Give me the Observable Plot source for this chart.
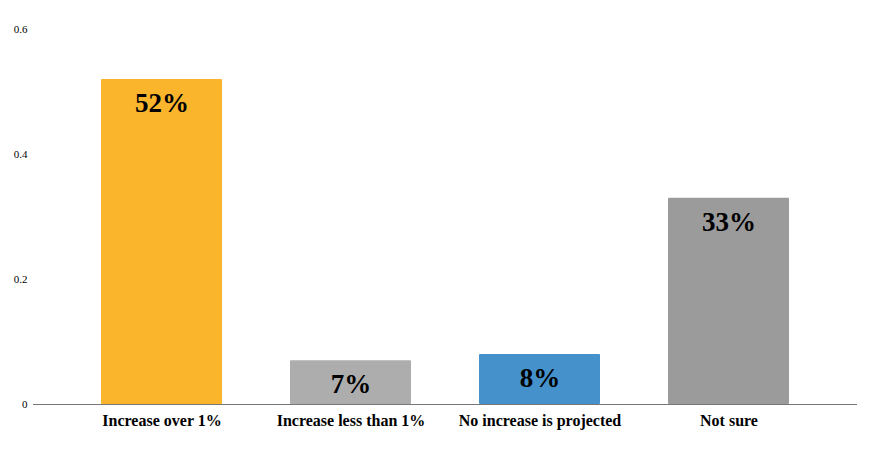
<!DOCTYPE html>
<html>
<head>
<meta charset="utf-8">
<script src="https://cdn.jsdelivr.net/npm/d3@7"></script>
<script src="https://cdn.jsdelivr.net/npm/@observablehq/plot@0.6"></script>
<style>
body { margin: 0; background: #fff; }
</style>
</head>
<body>
<div id="chart"></div>
<script>
const categories = ["Increase over 1%", "Increase less than 1%", "No increase is projected", "Not sure"];
const values = [0.52, 0.07, 0.08, 0.33];
const labels = ["52%", "7%", "8%", "33%"];
const colors = ["#FBB52D", "#ADADAD", "#4591CC", "#9B9B9B"];
const yTicks = [0, 0.2, 0.4, 0.6];

const data = categories.map((c, i) => ({category: c, value: values[i], label: labels[i]}));

const chart = Plot.plot({
  width: 882,
  height: 472,
  marginTop: 29,
  marginBottom: 68,
  marginLeft: 33,
  marginRight: 25,
  style: {fontFamily: "'Liberation Serif', serif", background: "#fff"},
  x: {domain: categories, padding: 0.36, paddingOuter: 0.35, label: null},
  y: {domain: [0, 0.6], ticks: yTicks, label: null},
  color: {domain: categories, range: colors},
  marks: [
    Plot.barY(data, {x: "category", y: "value", fill: "category", rx: 1}),
    Plot.ruleY([0], {stroke: "#777", strokeWidth: 1.2}),
    Plot.text(data, {x: "category", y: "value", text: "label", dy: 24, fontSize: 27, fontWeight: "bold", fill: "#000", fontFamily: "'Liberation Serif', serif"}),
    Plot.axisY({ticks: yTicks, tickSize: 0, tickPadding: 6, fontSize: 11, tickFormat: d => String(d), fill: "#000"}),
    Plot.axisX({tickSize: 0, tickPadding: 10, fontSize: 16, fontWeight: "bold", fill: "#000"})
  ]
});
document.getElementById("chart").appendChild(chart);
</script>
</body>
</html>
